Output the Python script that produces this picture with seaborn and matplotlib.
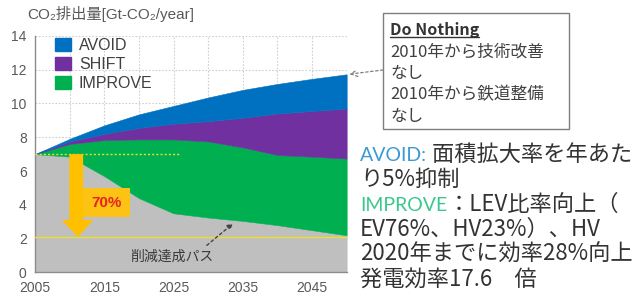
import numpy as np
import pandas as pd
import matplotlib
matplotlib.use("Agg")
import matplotlib.pyplot as plt
import matplotlib.patches as mpatches
from matplotlib.lines import Line2D
import seaborn as sns

# values (Gt-CO2/year)
years = [2005, 2010, 2015, 2020, 2025, 2030, 2035, 2040, 2045, 2050]
reduction_path = [7.0, 6.85, 5.7, 4.4, 3.5, 3.25, 3.05, 2.8, 2.5, 2.2]
improve_top = [7.0, 7.6, 7.83, 7.87, 7.87, 7.75, 7.4, 6.95, 6.85, 6.74]
shift_top = [7.0, 7.75, 8.2, 8.55, 8.8, 8.95, 9.15, 9.4, 9.55, 9.7]
do_nothing = [7.0, 7.9, 8.7, 9.35, 9.85, 10.35, 10.8, 11.15, 11.45, 11.72]

legend_labels = ["AVOID", "SHIFT", "IMPROVE"]
layer_colors = {"base": "#bfbfbf", "IMPROVE": "#00b050", "SHIFT": "#7030a0", "AVOID": "#0070c0"}

x_ticks = list(range(2005, 2051, 5))
x_labels = [str(y) if (y - 2005) % 10 == 0 else "" for y in x_ticks]
y_ticks = [0, 2, 4, 6, 8, 10, 12, 14]

start_level = 7.0
target_level = 2.1
reduction_label = "70%"
path_label = "削減達成パス"
y_title = "CO₂排出量[Gt-CO₂/year]"

box_title = "Do Nothing"
box_lines = ["2010年から技術改善", "なし", "2010年から鉄道整備", "なし"]

note_lines = [
    ("AVOID:", "#3a9ad6", " 面積拡大率を年あた"),
    ("", None, "り5%抑制"),
    ("IMPROVE", "#3cc88c", "：LEV比率向上（"),
    ("", None, "EV76%、HV23%）、HV"),
    ("", None, "2020年までに効率28%向上"),
    ("", None, "発電効率17.6　倍"),
]

df = pd.DataFrame({"year": years, "base": reduction_path, "improve_top": improve_top,
                   "shift_top": shift_top, "total": do_nothing})

sns.set_theme(style="whitegrid")
plt.rcParams["font.family"] = ["Noto Sans CJK JP", "DejaVu Sans"]
latin = ["Liberation Sans", "DejaVu Sans"]

fig = plt.figure(figsize=(6.42, 3.03), dpi=100)
ax = fig.add_axes([0.0545, 0.1007, 0.4855, 0.7813])
ax.set_facecolor("white")

layers = [
    ("base", np.zeros(len(df)), df["base"]),
    ("IMPROVE", df["base"], df["improve_top"]),
    ("SHIFT", df["improve_top"], df["shift_top"]),
    ("AVOID", df["shift_top"], df["total"]),
]
for name, lo, hi in layers:
    ax.fill_between(df["year"], lo, hi, color=layer_colors[name], lw=0.4,
                    edgecolor=layer_colors[name], zorder=2)

# yellow dotted reference levels
sns.lineplot(x=[2005, 2026], y=[start_level, start_level], ax=ax, color="#e8e030",
             lw=1.0, linestyle=(0, (1.5, 1.5)), zorder=3)
sns.lineplot(x=[2005, 2050], y=[target_level, target_level], ax=ax, color="#e8e030",
             lw=1.0, zorder=3)

# big arrow from current level to target level
arrow = [(2009.95, start_level), (2011.95, start_level), (2011.95, 3.1), (2013.4, 3.1),
         (2011.2, target_level), (2008.85, 3.1), (2009.95, 3.1)]
ax.add_patch(mpatches.Polygon(arrow, closed=True, facecolor="#ffc000", edgecolor="none", zorder=4))
ax.add_patch(mpatches.Rectangle((2011.95, 3.3), 6.75, 1.67, facecolor="#fcc314",
                                edgecolor="none", zorder=4))
ax.text(2015.3, 4.1, reduction_label, color="#e8231e", fontsize=11, fontweight="bold",
        ha="center", va="center", zorder=5, family=latin)

ax.text(2024.8, 0.95, path_label, fontsize=10, color="#3a3a3a", ha="center", va="center",
        zorder=5)
ax.annotate("", xy=(2033.9, 3.0), xytext=(2029.5, 1.5),
            arrowprops=dict(arrowstyle="-|>", color="#444444", lw=1.0, linestyle=(0, (2, 2)),
                            mutation_scale=8), zorder=5)

ax.set_xlim(2005, 2050)
ax.set_ylim(0, 14)
ax.set_xticks(x_ticks)
ax.set_xticklabels(x_labels)
ax.set_yticks(y_ticks)
ax.grid(True, color="#cfcfcf", lw=0.8, linestyle=(0, (1.5, 1.5)))
ax.set_axisbelow(True)
for side in ["top", "right"]:
    ax.spines[side].set_visible(False)
for side in ["left", "bottom"]:
    ax.spines[side].set_color("#8c8c8c")
    ax.spines[side].set_linewidth(1.0)
ax.tick_params(axis="both", length=4, width=0.8, color="#8c8c8c", labelsize=10,
               labelcolor="#595959", pad=2)
for lab in ax.get_xticklabels() + ax.get_yticklabels():
    lab.set_family(latin)
ax.set_xlabel("")
ax.set_ylabel("")

handles = [mpatches.Patch(color=layer_colors[n]) for n in legend_labels]
ax.legend(handles, legend_labels, loc="upper left", bbox_to_anchor=(0.064, 0.99),
          frameon=False, labelspacing=0.25, handlelength=1.0, handleheight=0.8,
          handletextpad=0.5, borderpad=0, borderaxespad=0,
          prop={"family": latin, "size": 11.5}, labelcolor="#404040")

fig.text(0.043, 0.953, y_title, fontsize=11, color="#595959", va="center", ha="left",
         family=["Liberation Sans", "Noto Sans CJK JP", "DejaVu Sans"])

# Do Nothing box
fig.add_artist(mpatches.Rectangle((0.5966, 0.574), 0.2897, 0.384, transform=fig.transFigure,
                                  facecolor="white", edgecolor="#7f7f7f", lw=1.0))
t = fig.text(0.6075, 1 - 30 / 303, box_title, fontsize=11.5, fontweight="bold", color="#333333",
             va="center", ha="left")
fig.canvas.draw()
renderer = fig.canvas.get_renderer()
bb = t.get_window_extent(renderer).transformed(fig.transFigure.inverted())
fig.add_artist(Line2D([bb.x0, bb.x1], [bb.y0 + 0.004, bb.y0 + 0.004], transform=fig.transFigure,
                      color="#333333", lw=1.0))
for i, line in enumerate(box_lines):
    fig.text(0.6075, 1 - (52 + i * 21.5) / 303, line, fontsize=12, color="#404040",
             va="center", ha="left")
ax.annotate("", xy=(2050.2, do_nothing[-1]), xycoords="data", xytext=(0.5966, 0.769),
            textcoords="figure fraction", annotation_clip=False,
            arrowprops=dict(arrowstyle="->", color="#7f7f7f", lw=0.9, linestyle=(0, (2, 2)),
                            shrinkA=0, shrinkB=1))

# notes on the right
x0 = 0.561
for i, (head, color, rest) in enumerate(note_lines):
    y = 1 - (161 + i * 25) / 303
    x = x0
    if head:
        t1 = fig.text(x0, y, head, fontsize=14, color=color, va="baseline", ha="left",
                      family=["Lato", "DejaVu Sans"])
        x = t1.get_window_extent(renderer).transformed(fig.transFigure.inverted()).x1
    fig.text(x, y, rest, fontsize=16, color="#333333", va="baseline", ha="left")

fig.savefig("out.png", dpi=100)
